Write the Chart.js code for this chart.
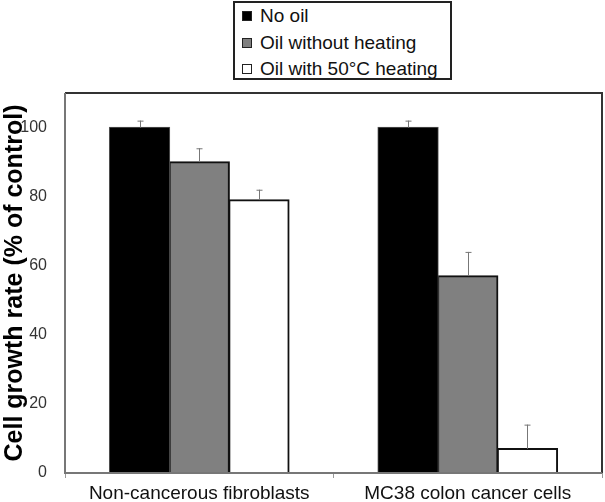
<!DOCTYPE html>
<html>
<head>
<meta charset="utf-8">
<script src="https://cdn.jsdelivr.net/npm/chart.js@4"></script>
<style>
  body { margin: 0; background: #fff; font-family: Arial, "Liberation Sans", sans-serif; }
  #wrap { position: relative; width: 605px; height: 502px; }
  #legend {
    position: absolute; left: 233px; top: 1px; width: 215px; height: 75px;
    border: 2px solid #222; background: #fff;
  }
  .item { position: absolute; left: 7px; height: 22px; line-height: 22px; font-size: 19px; color: #111; white-space: nowrap; }
  .item span.sw { display: inline-block; width: 8px; height: 8px; border: 1px solid #222; margin-right: 8px; vertical-align: 1px; }
</style>
</head>
<body>
<div id="wrap">
  <canvas id="chart" width="605" height="502"></canvas>
  <div id="legend"></div>
</div>
<script>
const categories = ['Non-cancerous fibroblasts', 'MC38 colon cancer cells'];
const seriesNames = ['No oil', 'Oil without heating', 'Oil with 50\u00b0C heating'];
const noOil = [100, 100];
const oilNoHeat = [90, 57];
const oil50 = [79, 7];
const noOilErr = [2, 2];
const oilNoHeatErr = [4, 7];
const oil50Err = [3, 7];
const yTicks = [0, 20, 40, 60, 80, 100];

const fills = ['#000000', '#808080', '#ffffff'];

// legend box like the original (bordered, stacked rows)
const legendDiv = document.getElementById('legend');
seriesNames.forEach((name, i) => {
  const row = document.createElement('div');
  row.className = 'item';
  row.style.top = (2 + i * 26.5) + 'px';
  row.innerHTML = '<span class="sw" style="background:' + fills[i] + '"></span>' + name;
  legendDiv.appendChild(row);
});

// upward error bars drawn from the y scale
const errorBars = {
  id: 'errorBars',
  afterDatasetsDraw(chart) {
    const ctx = chart.ctx;
    const y = chart.scales.y;
    ctx.save();
    ctx.strokeStyle = '#777';
    ctx.lineWidth = 1;
    chart.data.datasets.forEach((ds, di) => {
      const meta = chart.getDatasetMeta(di);
      meta.data.forEach((bar, i) => {
        const top = y.getPixelForValue(ds.data[i] + ds.err[i]);
        const x = Math.round(bar.x) + 0.5;
        ctx.beginPath();
        ctx.moveTo(x, bar.y);
        ctx.lineTo(x, top);
        ctx.moveTo(x - 3, top + 0.5);
        ctx.lineTo(x + 3, top + 0.5);
        ctx.stroke();
      });
    });
    ctx.restore();
  }
};

// frame round the plot area
const frame = {
  id: 'frame',
  afterDraw(chart) {
    const a = chart.chartArea;
    const ctx = chart.ctx;
    ctx.save();
    ctx.strokeStyle = '#333';
    ctx.lineWidth = 2;
    ctx.beginPath();
    ctx.moveTo(a.left, a.top);
    ctx.lineTo(a.right, a.top);
    ctx.lineTo(a.right, a.bottom);
    ctx.stroke();
    ctx.strokeStyle = '#777';
    ctx.beginPath();
    ctx.moveTo(a.left, a.top);
    ctx.lineTo(a.left, a.bottom);
    ctx.lineTo(a.right, a.bottom);
    ctx.stroke();
    ctx.restore();
  }
};

new Chart(document.getElementById('chart'), {
  type: 'bar',
  data: {
    labels: categories,
    datasets: [
      { label: seriesNames[0], data: noOil, err: noOilErr, backgroundColor: fills[0], borderColor: '#555', borderWidth: 1 },
      { label: seriesNames[1], data: oilNoHeat, err: oilNoHeatErr, backgroundColor: fills[1], borderColor: '#111', borderWidth: 2 },
      { label: seriesNames[2], data: oil50, err: oil50Err, backgroundColor: fills[2], borderColor: '#111', borderWidth: 2 }
    ]
  },
  options: {
    responsive: false,
    animation: false,
    layout: { padding: { top: 93, right: 3, left: 0, bottom: 0 } },
    datasets: { bar: { categoryPercentage: 0.667, barPercentage: 1, inflateAmount: 0.8 } },
    plugins: { legend: { display: false }, tooltip: { enabled: false } },
    scales: {
      x: {
        grid: { display: true, offset: true, drawOnChartArea: false, tickLength: 5, color: '#999' },
        border: { display: false },
        ticks: { color: '#111', font: { family: 'Arial, "Liberation Sans"', size: 19 }, padding: 4 },
        afterFit(scale) { scale.height = 29; }
      },
      y: {
        min: 0,
        max: 110,
        grid: { display: false },
        border: { display: false },
        afterBuildTicks(scale) { scale.ticks = yTicks.map(v => ({ value: v })); },
        ticks: { color: '#333', font: { family: 'Arial, "Liberation Sans"', size: 16 }, padding: 10 },
        title: {
          display: true,
          text: 'Cell growth rate (% of control)',
          color: '#000',
          font: { family: 'Arial, "Liberation Sans"', size: 25, weight: 'bold' },
          padding: { top: 0, bottom: 0 }
        },
        afterFit(scale) { scale.width = 65; }
      }
    }
  },
  plugins: [errorBars, frame]
});
</script>
</body>
</html>
